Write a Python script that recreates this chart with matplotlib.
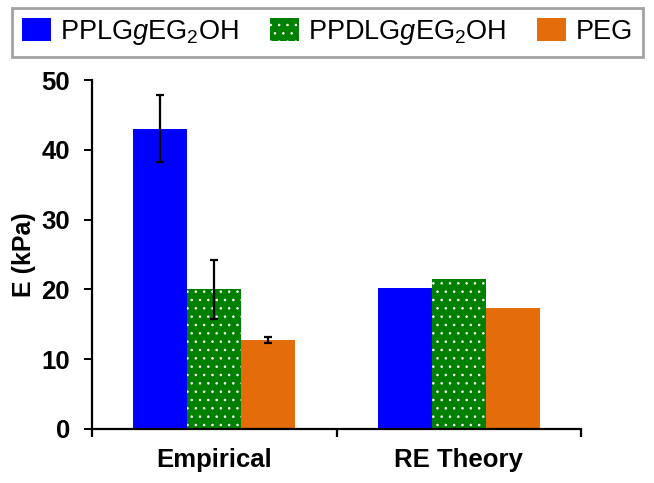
"""Bar chart of E (kPa): empirical vs RE theory."""

import matplotlib
matplotlib.use("Agg")
import matplotlib.pyplot as plt
import numpy as np

plt.rcParams["font.family"] = ["Liberation Sans", "DejaVu Sans"]
plt.rcParams["mathtext.fontset"] = "custom"
plt.rcParams["mathtext.rm"] = "Liberation Sans"
plt.rcParams["mathtext.it"] = "Liberation Sans:italic"
plt.rcParams["hatch.linewidth"] = 0.6

# Data
CATEGORIES = ["Empirical", "RE Theory"]
SERIES = [r"PPLG$\mathit{g}$EG$_2$OH", r"PPDLG$\mathit{g}$EG$_2$OH", "PEG"]
VALUES = [
    [43.0, 20.15],
    [20.0, 21.5],
    [12.75, 17.3],
]
ERRORS = [
    [4.8, np.nan],
    [4.2, np.nan],
    [0.5, np.nan],
]
COLORS = ["#0000ff", "#008000", "#e46c0a"]
HATCHES = [None, "..", None]

BAR_W = 0.221


def _main() -> None:
    fig = plt.figure(figsize=(6.54, 4.83), dpi=100)
    ax = fig.add_axes([92 / 654, 1 - 429 / 483, (581 - 92) / 654,
                       (429 - 80) / 483])

    x = np.arange(len(CATEGORIES))
    handles = []
    for i, (name, vals, errs) in enumerate(zip(SERIES, VALUES, ERRORS)):
        pos = x + (i - 1) * BAR_W
        if HATCHES[i]:
            b = ax.bar(pos, vals, BAR_W, color=COLORS[i], edgecolor="white",
                       linewidth=0, hatch=HATCHES[i], label=name)
        else:
            b = ax.bar(pos, vals, BAR_W, color=COLORS[i], linewidth=0,
                       label=name)
        ax.errorbar(pos, vals, yerr=errs, fmt="none", ecolor="black",
                    elinewidth=1.6, capsize=3, capthick=1.6)
        handles.append(b)

    ax.set_xlim(-0.5, 1.5)
    ax.set_ylim(0, 50)
    ax.set_yticks([0, 10, 20, 30, 40, 50])
    ax.set_xticks(x)
    ax.set_xticklabels(CATEGORIES, fontsize=18.5, fontweight="bold")
    ax.set_xticks([-0.5, 0.5, 1.5], minor=True)
    ax.tick_params(axis="x", which="major", length=0, pad=14)
    ax.tick_params(axis="x", which="minor", length=6, width=1.6,
                   direction="out")
    ax.tick_params(axis="y", length=6, width=1.4, pad=10, labelsize=18.5)
    for lab in ax.get_yticklabels():
        lab.set_fontweight("bold")
    ax.set_ylabel("E (kPa)", fontsize=18, fontweight="bold", labelpad=4)

    for side in ["top", "right"]:
        ax.spines[side].set_visible(False)
    for side in ["left", "bottom"]:
        ax.spines[side].set_linewidth(1.6)

    leg = fig.legend(handles=handles, loc="center", ncol=3,
                     bbox_to_anchor=(327.5 / 654, 1 - 32.5 / 483),
                     fontsize=19.5, frameon=True, fancybox=False,
                     edgecolor="#8c8c8c", handlelength=1.05,
                     handleheight=0.95, handletextpad=0.35,
                     columnspacing=1.15, borderpad=0.38)
    leg.get_frame().set_linewidth(2.0)

    fig.savefig("out.png", dpi=100)


if __name__ == "__main__":
    _main()
